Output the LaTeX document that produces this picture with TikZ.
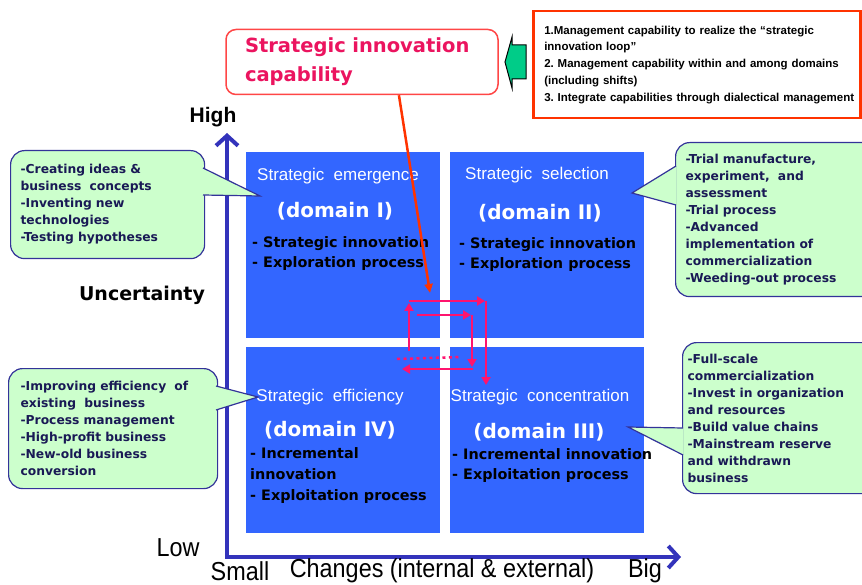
\documentclass[tikz,border=0pt]{standalone}
\usepackage{fontspec}
\setmainfont{Liberation Sans}
\newfontfamily\dejavu{DejaVu Sans}
\newfontfamily\narrowsans[FakeStretch=0.9]{Liberation Sans}
\usetikzlibrary{positioning, arrows.meta}

\definecolor{quadblue}{RGB}{51,102,255}
\definecolor{axisblue}{RGB}{51,51,187}
\definecolor{calloutgreen}{RGB}{204,255,204}
\definecolor{calloutline}{RGB}{51,51,153}
\definecolor{calloutink}{RGB}{25,25,85}
\definecolor{looppink}{RGB}{255,20,110}
\definecolor{leadred}{RGB}{255,51,0}
\definecolor{capred}{RGB}{235,20,95}
\definecolor{boxred}{RGB}{255,70,70}
\definecolor{arrowgreen}{RGB}{0,204,136}

\begin{document}
\begin{tikzpicture}[x=1pt, y=-1pt,
    quad/.style={fill=quadblue, minimum width=194, minimum height=186, inner sep=0, outer sep=0},
    qtitle/.style={text=white, font=\fontsize{17}{20}\selectfont},
    qdomain/.style={text=white, font=\dejavu\bfseries\fontsize{20}{24}\selectfont},
    qitem/.style={anchor=west, align=left, inner sep=0, font=\dejavu\bfseries\fontsize{14.4}{20}\selectfont},
    callout/.style={anchor=north west, fill=calloutgreen, draw=calloutline, line width=1.2pt, rounded corners=14pt, align=left, text=calloutink, inner ysep=0, font=\dejavu\bfseries\fontsize{12.3}{17}\selectfont},
    pointer/.style={fill=calloutgreen},
    pointerline/.style={draw=calloutline, line width=1.2pt},
    axis/.style={draw=axisblue, line width=4pt, {Straight Barb[length=10pt, width=22pt]}-{Straight Barb[length=10pt, width=22pt]}},
    axislabel/.style={font=\narrowsans\fontsize{26}{28}\selectfont, inner sep=1pt},
    loopline/.style={draw=looppink, line width=2.8pt, -{Triangle[length=8pt, width=9pt]}},
]
\clip (0,0) rectangle (862,585);

% Draw the four domains
\node[quad, anchor=north west] (emerg) at (246,152) {};
\node[quad, right=10pt of emerg] (select) {};
\node[quad, below=9pt of emerg] (effic) {};
\node[quad, right=10pt of effic] (concen) {};

\node[qtitle] (emergT) at (338,176) {Strategic\ \ emergence};
\node[qdomain] (emergD) at (335,211) {(domain I)};
\node[qitem] (emergI) at (252,254) {- Strategic innovation\\- Exploration process};

\node[qtitle] (selectT) at (537,175) {Strategic\ \ selection};
\node[qdomain] (selectD) at (540,213) {(domain II)};
\node[qitem] (selectI) at (459,255) {- Strategic innovation\\- Exploration process};

\node[qtitle] (efficT) at (330,397) {Strategic\ \ efficiency};
\node[qdomain] (efficD) at (330,430) {(domain IV)};
\node[qitem, font=\dejavu\bfseries\fontsize{14.4}{21}\selectfont] (efficI) at (250,476) {- Incremental\\innovation\\- Exploitation process};

\node[qtitle] (concenT) at (540,397) {Strategic\ \ concentration};
\node[qdomain] (concenD) at (539,432) {(domain III)};
\node[qitem] (concenI) at (452,466) {- Incremental innovation\\- Exploitation process};

% Draw the axes
\coordinate (origin) at (227,557);
\coordinate (yend) at (227,133);
\coordinate (xend) at (681,557);
\draw[axis] (yend) -- (origin) -- (xend);

\node[font=\bfseries\fontsize{21}{24}\selectfont] (high) at (213,117) {High};
\node[font=\dejavu\bfseries\fontsize{19}{22}\selectfont] (uncert) at (142,295) {Uncertainty};
\node[axislabel] (low) at (178,548) {Low};
\node[axislabel] (small) at (240,571) {Small};
\node[axislabel] (changes) at (442,571) {Changes (internal \& external)};
\node[axislabel] (big) at (645,571) {Big};

% Draw the callouts
\node[callout, text width=174, inner xsep=10, minimum height=108] (ideas) at (10,150)
    {-Creating ideas \&\\business\ \ concepts\\-Inventing new\\technologies\\-Testing hypotheses};
\node[callout, text width=190, inner xsep=10, minimum height=154] (trial) at (675,142)
    {-Trial manufacture,\\experiment,\ \ and\\assessment\\-Trial process\\-Advanced\\implementation of\\commercialization\\-Weeding-out process};
\node[callout, text width=185, inner xsep=12, minimum height=120] (improve) at (8,368)
    {-Improving efficiency\ \ of\\existing\ \ business\\-Process management\\-High-profit business\\-New-old business\\conversion};
\node[callout, text width=195, inner xsep=5, minimum height=151] (scale) at (682,342)
    {-Full-scale\\commercialization\\-Invest in organization\\and resources\\-Build value chains\\-Mainstream reserve\\and withdrawn\\business};

\fill[pointer] (203,168) -- (260,196) -- (203,195) -- cycle;
\draw[pointerline] (203,168) -- (260,196) -- (203,195);
\fill[pointer] (676,166) -- (632,193) -- (676,205) -- cycle;
\draw[pointerline] (676,166) -- (632,193) -- (676,205);
\fill[pointer] (216,386) -- (258,397) -- (216,410) -- cycle;
\draw[pointerline] (216,386) -- (258,397) -- (216,410);
\fill[pointer] (683,428) -- (628,427) -- (683,455) -- cycle;
\draw[pointerline] (683,428) -- (628,427) -- (683,455);

% Draw the innovation loop
\coordinate (la) at (409,351);
\coordinate (lb) at (409,303);
\coordinate (lc) at (409,301);
\coordinate (ld) at (485,301);
\coordinate (le) at (486,301);
\coordinate (lf) at (486,385);
\draw[loopline] (la) -- (lb);
\draw[loopline] (lc) -- (ld);
\draw[loopline] (le) -- (lf);

\coordinate (li) at (417,315);
\coordinate (lj) at (471,315);
\coordinate (lk) at (472,315);
\coordinate (ll) at (472,367);
\coordinate (lm) at (473,369);
\coordinate (ln) at (402,369);
\draw[loopline] (li) -- (lj);
\draw[loopline] (lk) -- (ll);
\draw[loopline] (lm) -- (ln);

\coordinate (dotA) at (397,359);
\coordinate (dotB) at (461,357);
\draw[looppink, line width=2.5pt, dash pattern=on 3pt off 3.5pt] (dotA) -- (dotB);

% Draw the capability boxes
\node[draw=boxred, line width=1.5pt, rounded corners=10pt, fill=white, minimum width=272, minimum height=65, text width=234, align=left, text=capred, font=\dejavu\bfseries\fontsize{19.5}{29}\selectfont] (sic) at (362,62)
    {Strategic innovation\\capability};

\coordinate (looptop) at (430,293);
\draw[leadred, line width=2.5pt, -{Triangle[length=9pt, width=8pt]}] (sic.-42) -- (looptop);

\filldraw[fill=arrowgreen, draw=black, line width=1pt] (505,62) -- (512,37) -- (512,45) -- (526,45) -- (526,79) -- (512,79) -- (512,88) -- cycle;

\node[draw=leadred, line width=2.5pt, anchor=north west, minimum width=327, minimum height=107, text width=305, inner xsep=11, align=left, text=black, font=\bfseries\fontsize{11.5}{16.8}\selectfont\frenchspacing] (loopnote) at (532,10)
    {1.Management capability to realize the ``strategic\\innovation loop''\\\makebox[305pt][l]{2. Management capability within and among domains}\\(including shifts)\\\makebox[305pt][l]{3. Integrate capabilities through dialectical management}};

\end{tikzpicture}
\end{document}
